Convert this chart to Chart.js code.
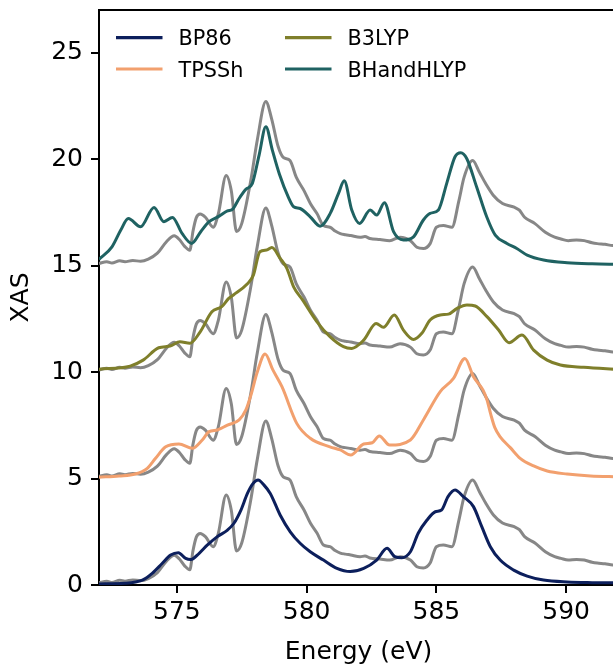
<!DOCTYPE html>
<html>
<head>
<meta charset="utf-8">
<title>XAS</title>
<script src="https://cdn.jsdelivr.net/npm/chart.js@4.4.0/dist/chart.umd.min.js"></script>
<style>
  html, body { margin: 0; padding: 0; overflow: hidden; background: #fff; }
  #wrap { width: 640px; height: 665px; }
</style>
</head>
<body>
<div id="wrap"><canvas id="chart" width="640" height="665"></canvas></div>
<script>
// ===== experiment (grey), read from the lowest copy; drawn again at each offset =====
const EXP_E = [572.0, 572.3, 572.5, 572.8, 573.0, 573.3, 573.6, 573.9, 574.25, 574.6, 574.9, 575.1, 575.3, 575.5, 575.62, 575.75, 575.9, 576.1, 576.4, 576.6, 576.9, 577.1, 577.3, 577.5, 577.85, 578.1, 578.43, 578.65, 578.9, 579.1, 579.36, 579.6, 579.9, 580.15, 580.4, 580.65, 580.9, 581.1, 581.3, 581.5, 581.7, 582.06, 582.25, 582.44, 582.83, 583.2, 583.6, 584.0, 584.25, 584.5, 584.76, 585.0, 585.27, 585.6, 585.87, 586.07, 586.4, 586.66, 586.9, 587.2, 587.55, 588.0, 588.2, 588.4, 588.8, 589.2, 589.56, 589.8, 590.08, 590.4, 590.7, 591.0, 591.2, 591.5, 591.8, 592.0];
const EXP_Y = [0.10, 0.18, 0.12, 0.22, 0.18, 0.24, 0.20, 0.30, 0.58, 1.12, 1.40, 1.22, 0.90, 0.72, 1.60, 2.25, 2.42, 2.27, 1.80, 2.44, 4.23, 3.50, 1.60, 1.97, 4.00, 5.90, 7.70, 6.90, 5.60, 5.08, 4.93, 4.15, 3.52, 2.90, 2.44, 1.88, 1.80, 1.62, 1.50, 1.45, 1.41, 1.33, 1.36, 1.27, 1.22, 1.17, 1.33, 1.17, 0.86, 0.80, 1.03, 1.80, 1.88, 1.80, 3.05, 4.15, 4.93, 4.38, 3.85, 3.29, 2.91, 2.74, 2.60, 2.27, 1.97, 1.56, 1.33, 1.25, 1.17, 1.20, 1.17, 1.07, 1.03, 1.00, 0.94, 0.95];
const EXP_OFFSETS = [0, 5, 10, 15];

// ===== calculated spectra (values as plotted, offset included) =====
const BP86_E = [572.0, 573.0, 573.67, 574.05, 574.44, 574.76, 575.06, 575.34, 575.54, 575.86, 576.18, 576.56, 576.95, 577.2, 577.47, 577.72, 577.94, 578.13, 578.36, 578.6, 578.98, 579.37, 579.75, 580.14, 580.65, 581.17, 581.68, 582.2, 582.7, 583.1, 583.4, 583.67, 584.0, 584.3, 584.64, 584.96, 585.2, 585.45, 585.72, 586.04, 586.43, 586.75, 587.08, 587.46, 587.98, 588.5, 589.13, 590.04, 591.0, 592.0];
const BP86_Y = [0.05, 0.08, 0.23, 0.55, 1.02, 1.41, 1.52, 1.25, 1.20, 1.49, 1.88, 2.27, 2.58, 2.90, 3.52, 4.30, 4.77, 4.93, 4.69, 4.30, 3.29, 2.50, 1.96, 1.56, 1.17, 0.78, 0.63, 0.78, 1.17, 1.72, 1.33, 1.28, 1.56, 2.43, 3.05, 3.44, 3.52, 4.15, 4.46, 4.15, 3.68, 2.74, 1.80, 1.17, 0.70, 0.42, 0.23, 0.14, 0.11, 0.10];

const TPSSH_E = [572.0, 572.77, 573.4, 573.86, 574.18, 574.57, 575.08, 575.6, 575.98, 576.24, 576.56, 576.95, 577.4, 577.66, 577.85, 578.1, 578.4, 578.7, 579.05, 579.62, 580.14, 580.9, 581.3, 581.7, 582.2, 582.53, 582.8, 583.2, 584.0, 584.5, 585.15, 585.66, 586.1, 586.43, 586.8, 586.95, 587.1, 587.25, 587.46, 587.85, 588.23, 588.75, 589.27, 590.04, 590.94, 592.0];
const TPSSH_Y = [5.06, 5.12, 5.21, 5.48, 5.95, 6.49, 6.62, 6.42, 6.81, 7.20, 7.28, 7.51, 7.75, 8.22, 8.90, 10.00, 10.85, 10.10, 9.31, 7.59, 6.89, 6.49, 6.34, 6.10, 6.62, 6.68, 7.00, 6.57, 6.81, 7.75, 9.08, 9.70, 10.64, 9.78, 9.15, 8.70, 8.00, 7.40, 6.96, 6.45, 5.95, 5.59, 5.35, 5.21, 5.12, 5.08];

const B3LYP_E = [572.0, 573.2, 573.7, 574.3, 574.74, 575.12, 575.5, 575.9, 576.35, 576.73, 577.0, 577.18, 577.7, 577.95, 578.2, 578.46, 578.66, 578.98, 579.24, 579.5, 579.85, 580.4, 580.9, 581.42, 581.74, 582.2, 582.68, 582.96, 583.38, 583.73, 584.12, 584.44, 584.76, 585.15, 585.47, 585.8, 586.18, 586.5, 586.95, 587.4, 587.8, 588.3, 588.75, 589.27, 589.78, 590.68, 592.0];
const B3LYP_Y = [10.13, 10.28, 10.56, 11.14, 11.22, 11.42, 11.35, 11.89, 12.83, 13.07, 13.46, 13.62, 14.12, 14.55, 15.65, 15.73, 15.85, 15.34, 14.87, 14.00, 13.38, 12.36, 11.66, 11.19, 11.11, 11.50, 12.28, 12.10, 12.68, 11.97, 11.53, 11.82, 12.44, 12.68, 12.72, 12.99, 13.15, 13.10, 12.60, 11.97, 11.38, 11.74, 11.03, 10.56, 10.33, 10.22, 10.12];

const BHH_E = [572.0, 572.5, 572.84, 573.13, 573.6, 574.12, 574.5, 574.83, 575.2, 575.57, 575.92, 576.24, 576.63, 576.95, 577.14, 577.4, 577.66, 577.91, 578.17, 578.43, 578.68, 578.95, 579.3, 579.5, 579.75, 580.14, 580.52, 580.91, 581.23, 581.45, 581.74, 582.04, 582.45, 582.7, 583.0, 583.35, 583.73, 584.12, 584.5, 584.76, 585.08, 585.4, 585.72, 585.94, 586.17, 586.55, 586.94, 587.27, 587.72, 588.1, 588.5, 589.13, 590.04, 591.0, 592.0];
const BHH_Y = [15.29, 15.88, 16.67, 17.21, 16.82, 17.73, 17.06, 17.26, 16.51, 16.04, 16.59, 17.06, 17.32, 17.57, 17.64, 18.15, 18.58, 18.86, 20.19, 21.52, 20.42, 19.30, 18.20, 17.76, 17.68, 17.29, 16.85, 17.45, 18.39, 18.98, 17.61, 16.98, 17.61, 17.37, 17.95, 16.59, 16.20, 16.35, 17.14, 17.45, 17.61, 18.86, 20.11, 20.30, 20.03, 18.70, 17.29, 16.43, 16.04, 15.80, 15.49, 15.26, 15.13, 15.08, 15.06];

const SERIES_NAMES = ['BP86', 'TPSSh', 'B3LYP', 'BHandHLYP'];
const SERIES_E = [BP86_E, TPSSH_E, B3LYP_E, BHH_E];
const SERIES_Y = [BP86_Y, TPSSH_Y, B3LYP_Y, BHH_Y];
const SERIES_COLORS = ['#0c1f5c', '#f2a06e', '#7f7f2b', '#1f6262'];
const EXP_COLOR = '#878787';

const X_TICKS = [575, 580, 585, 590];
const Y_TICKS = [0, 5, 10, 15, 20, 25];

const FONT = 'DejaVu Sans';
Chart.defaults.font.family = FONT;
Chart.defaults.color = '#000';

function toPoints(xs, ys, off) {
  return xs.map((x, i) => ({ x: x, y: ys[i] + (off || 0) }));
}

// colored curves first so they are painted over the grey ones
const datasets = [];
SERIES_NAMES.forEach((name, i) => {
  datasets.push({
    label: name,
    data: toPoints(SERIES_E[i], SERIES_Y[i]),
    borderColor: SERIES_COLORS[i],
    borderWidth: 3,
    pointRadius: 0,
    cubicInterpolationMode: 'monotone',
    fill: false
  });
});
EXP_OFFSETS.forEach(off => {
  datasets.push({
    label: 'exp',
    data: toPoints(EXP_E, EXP_Y, off),
    borderColor: EXP_COLOR,
    borderWidth: 3,
    pointRadius: 0,
    cubicInterpolationMode: 'monotone',
    fill: false
  });
});

// top spine (right one falls outside the window)
const framePlugin = {
  id: 'frame',
  afterDraw(chart) {
    const { ctx, chartArea: a } = chart;
    ctx.save();
    ctx.strokeStyle = '#000';
    ctx.lineWidth = 2;
    ctx.beginPath();
    ctx.moveTo(a.left - 1, a.top);
    ctx.lineTo(a.right, a.top);
    ctx.lineTo(a.right, a.bottom);
    ctx.stroke();
    ctx.restore();
  }
};

// two-column legend, filled column by column
const legendPlugin = {
  id: 'colLegend',
  afterDraw(chart) {
    const ctx = chart.ctx;
    const colX = [116, 285];
    const rowY = [37.7, 69];
    ctx.save();
    ctx.font = '20.8px "' + FONT + '"';
    ctx.textBaseline = 'alphabetic';
    ctx.fillStyle = '#000';
    ctx.lineWidth = 3.2;
    SERIES_NAMES.forEach((name, i) => {
      const x = colX[Math.floor(i / 2)];
      const y = rowY[i % 2];
      ctx.strokeStyle = SERIES_COLORS[i];
      ctx.beginPath();
      ctx.moveTo(x, y);
      ctx.lineTo(x + 46.5, y);
      ctx.stroke();
      ctx.fillText(name, x + 62.5, y + 7.6);
    });
    ctx.restore();
  }
};

new Chart(document.getElementById('chart'), {
  type: 'line',
  data: { datasets: datasets },
  options: {
    responsive: false,
    animation: false,
    layout: { padding: { top: 10, right: 22, left: 0, bottom: 0 } },
    plugins: {
      legend: { display: false },
      tooltip: { enabled: false }
    },
    scales: {
      x: {
        type: 'linear',
        min: 572,
        max: 592,
        afterBuildTicks: s => { s.ticks = X_TICKS.map(v => ({ value: v })); },
        afterFit: s => { s.height = 80; s.paddingLeft = 0; s.paddingRight = 0; },
        grid: { drawOnChartArea: false, drawTicks: true, tickLength: 8, color: '#000', lineWidth: 2 },
        border: { display: true, color: '#000', width: 2 },
        ticks: { font: { size: 25 }, padding: 4, maxRotation: 0, color: '#000' },
        title: { display: true, text: 'Energy (eV)', font: { size: 25, lineHeight: 1 }, padding: { top: 0, bottom: 0 }, color: '#000' }
      },
      y: {
        type: 'linear',
        min: 0,
        max: 27,
        afterBuildTicks: s => { s.ticks = Y_TICKS.map(v => ({ value: v })); },
        afterFit: s => { s.width = 99; s.paddingTop = 0; s.paddingBottom = 0; },
        grid: { drawOnChartArea: false, drawTicks: true, tickLength: 8, color: '#000', lineWidth: 2 },
        border: { display: true, color: '#000', width: 2 },
        ticks: { font: { size: 25 }, padding: 8, color: '#000' },
        title: { display: true, text: 'XAS', font: { size: 25, lineHeight: 1.2 }, padding: { top: 6, bottom: 0 }, color: '#000' }
      }
    }
  },
  plugins: [framePlugin, legendPlugin]
});
</script>
</body>
</html>
